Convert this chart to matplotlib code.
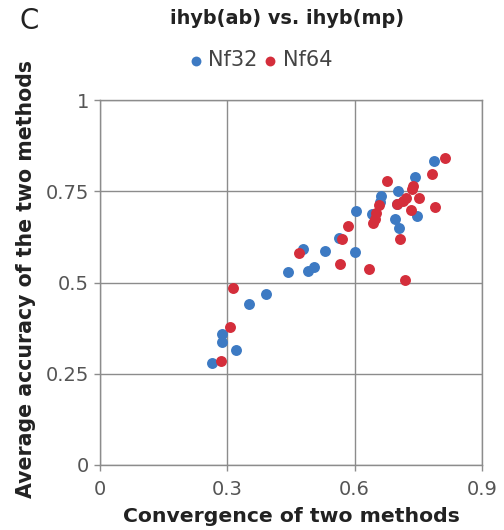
import numpy as np
import matplotlib
matplotlib.use("Agg")
import matplotlib.pyplot as plt

# Data
nf32_x = [0.787, 0.741, 0.702, 0.661, 0.642, 0.602, 0.748, 0.694, 0.705, 0.601,
          0.562, 0.529, 0.478, 0.504, 0.489, 0.444, 0.390, 0.350, 0.288, 0.287,
          0.321, 0.263, 0.660, 0.700]
nf32_y = [0.832, 0.788, 0.750, 0.737, 0.687, 0.696, 0.682, 0.673, 0.650, 0.584,
          0.623, 0.585, 0.591, 0.543, 0.532, 0.528, 0.469, 0.441, 0.359, 0.336,
          0.315, 0.279, 0.720, 0.715]

nf64_x = [0.812, 0.783, 0.677, 0.738, 0.720, 0.752, 0.736, 0.700, 0.732, 0.789,
          0.657, 0.648, 0.644, 0.707, 0.585, 0.571, 0.470, 0.565, 0.634, 0.718,
          0.314, 0.307, 0.285, 0.715, 0.650]
nf64_y = [0.841, 0.796, 0.777, 0.764, 0.732, 0.732, 0.755, 0.714, 0.700, 0.707,
          0.711, 0.673, 0.664, 0.620, 0.655, 0.619, 0.580, 0.550, 0.537, 0.508,
          0.484, 0.379, 0.284, 0.722, 0.690]

x_ticks = [0, 0.3, 0.6, 0.9]
x_labels = ["0", "0.3", "0.6", "0.9"]
y_ticks = [0, 0.25, 0.5, 0.75, 1]
y_labels = ["0", "0.25", "0.5", "0.75", "1"]

blue = "#3D7AC3"
red = "#D42E3B"
grey = "#8C8C8C"

plt.rcParams["font.family"] = ["DejaVu Sans"]

fig = plt.figure(figsize=(5.04, 5.30), dpi=100)
ax = fig.add_axes([100 / 504, 1 - 465 / 530, 382 / 504, 365 / 530])

ax.scatter(nf32_x, nf32_y, s=62, color=blue, linewidths=0, label="Nf32", zorder=3)
ax.scatter(nf64_x, nf64_y, s=62, color=red, linewidths=0, label="Nf64", zorder=4)

ax.set_xlim(0, 0.9)
ax.set_ylim(0, 1)
ax.set_xticks(x_ticks)
ax.set_xticklabels(x_labels)
ax.set_yticks(y_ticks)
ax.set_yticklabels(y_labels)
ax.grid(True, color=grey, linewidth=1)
ax.set_axisbelow(True)
for sp in ax.spines.values():
    sp.set_color(grey)
    sp.set_linewidth(1)
ax.tick_params(axis="both", colors=grey, labelcolor="#555555", labelsize=14,
               length=4, width=1)
ax.tick_params(axis="x", pad=7)
ax.tick_params(axis="y", pad=4)

# titles and labels
fig.text(287 / 504, 1 - 18 / 530, "ihyb(ab) vs. ihyb(mp)", ha="center", va="center",
         fontsize=13.9, fontweight="bold", color="#222222")
fig.text(29 / 504, 1 - 21 / 530, "C", ha="center", va="center", fontsize=20,
         color="#222222")
fig.text(291 / 504, 1 - 517 / 530, "Convergence of two methods", ha="center",
         va="center", fontsize=14.7, fontweight="bold", color="#222222")
fig.text(26 / 504, 1 - 279 / 530, "Average accuracy of the two methods",
         ha="center", va="center", rotation=90, fontsize=14.8, fontweight="bold",
         color="#222222")

fig.legend(loc="center", bbox_to_anchor=(261 / 504, 1 - 60 / 530), ncol=2,
           frameon=False, fontsize=15, handletextpad=0.3, columnspacing=0.3,
           handlelength=0.6, markerscale=0.9, borderpad=0, labelcolor="#444444")

fig.savefig("out.png", dpi=100)
